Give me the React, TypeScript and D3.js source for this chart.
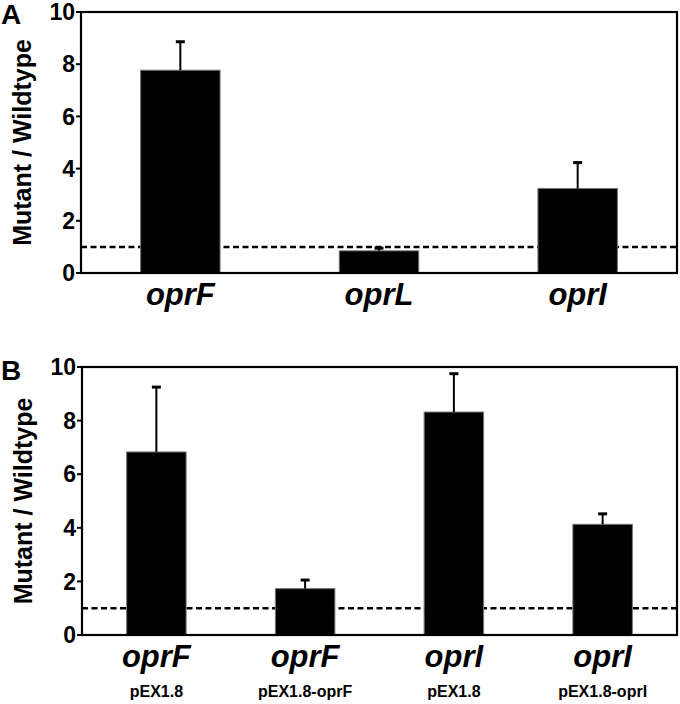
import React from "react";
import * as d3 from "d3";

const catsA = ["oprF", "oprL", "oprI"];
const valsA = [7.77, 0.85, 3.24];
const errA = [1.09, 0.1, 0.99];

const catsB = ["oprF", "oprF", "oprI", "oprI"];
const subB = ["pEX1.8", "pEX1.8-oprF", "pEX1.8", "pEX1.8-oprI"];
const valsB = [6.83, 1.73, 8.32, 4.13];
const errB = [2.42, 0.32, 1.43, 0.39];

const yTicks = [0, 2, 4, 6, 8, 10];
const refLine = 1;
const yLabel = "Mutant / Wildtype";

const FONT = "'Liberation Sans', Arial, Helvetica, sans-serif";

type PanelProps = {
  letter: string;
  letterY: number;
  cats: string[];
  subs?: string[];
  vals: number[];
  errs: number[];
  left: number;
  right: number;
  top: number;
  bottom: number;
};

function Panel({ letter, letterY, cats, subs, vals, errs, left, right, top, bottom }: PanelProps) {
  const keys = cats.map((_, i) => String(i));
  const x = d3.scaleBand<string>().domain(keys).range([left, right]).paddingInner(0.6).paddingOuter(0.3);
  const y = d3.scaleLinear().domain([0, 10]).range([bottom, top]);
  const bw = x.bandwidth();
  const capW = 9;
  return (
    <g>
      <text x={1} y={letterY} fontFamily={FONT} fontWeight="bold" fontSize={28}>
        {letter}
      </text>
      <text
        transform={`translate(${left - 50},${(top + bottom) / 2}) rotate(-90)`}
        textAnchor="middle"
        fontFamily={FONT}
        fontWeight="bold"
        fontSize={25}
      >
        {yLabel}
      </text>
      {yTicks.map((t) => (
        <g key={t}>
          <line x1={left - 5} x2={left} y1={y(t)} y2={y(t)} stroke="#000" strokeWidth={2} />
          <text
            x={left - 6}
            y={y(t)}
            dy="0.36em"
            textAnchor="end"
            fontFamily={FONT}
            fontWeight="bold"
            fontSize={23}
          >
            {t}
          </text>
        </g>
      ))}
      <line
        x1={left}
        x2={right}
        y1={y(refLine)}
        y2={y(refLine)}
        stroke="#000"
        strokeWidth={2.5}
        strokeDasharray="6,3.5"
      />
      {vals.map((v, i) => {
        const x0 = x(keys[i]) as number;
        const cx = x0 + bw / 2;
        const ye = y(v + errs[i]);
        return (
          <g key={i}>
            <rect x={x0} y={y(v)} width={bw} height={y(0) - y(v)} fill="#000" stroke="#777" strokeWidth={1} />
            <line x1={cx} x2={cx} y1={y(v)} y2={ye} stroke="#000" strokeWidth={2} />
            <line x1={cx - capW / 2} x2={cx + capW / 2} y1={ye} y2={ye} stroke="#000" strokeWidth={3} />
          </g>
        );
      })}
      <rect x={left} y={top} width={right - left} height={bottom - top} fill="none" stroke="#000" strokeWidth={2.2} />
      {cats.map((c, i) => {
        const cx = (x(keys[i]) as number) + bw / 2;
        return (
          <g key={"l" + i}>
            <text
              x={cx}
              y={bottom + 32}
              textAnchor="middle"
              fontFamily={FONT}
              fontWeight="bold"
              fontStyle="italic"
              fontSize={31}
            >
              {c}
            </text>
            {subs && (
              <text
                x={cx}
                y={bottom + 62}
                textAnchor="middle"
                fontFamily={FONT}
                fontWeight="bold"
                fontSize={16}
              >
                {subs[i]}
              </text>
            )}
          </g>
        );
      })}
    </g>
  );
}

export default function App() {
  return (
    <svg
      width={680}
      height={704}
      style={{ display: "block", position: "absolute", left: 0, top: 0 }}
    >
      <rect width={680} height={704} fill="#fff" />
      <Panel
        letter="A"
        letterY={24}
        cats={catsA}
        vals={valsA}
        errs={errA}
        left={81}
        right={677}
        top={12}
        bottom={273}
      />
      <Panel
        letter="B"
        letterY={380}
        cats={catsB}
        subs={subB}
        vals={valsB}
        errs={errB}
        left={82}
        right={677}
        top={367}
        bottom={635}
      />
    </svg>
  );
}
